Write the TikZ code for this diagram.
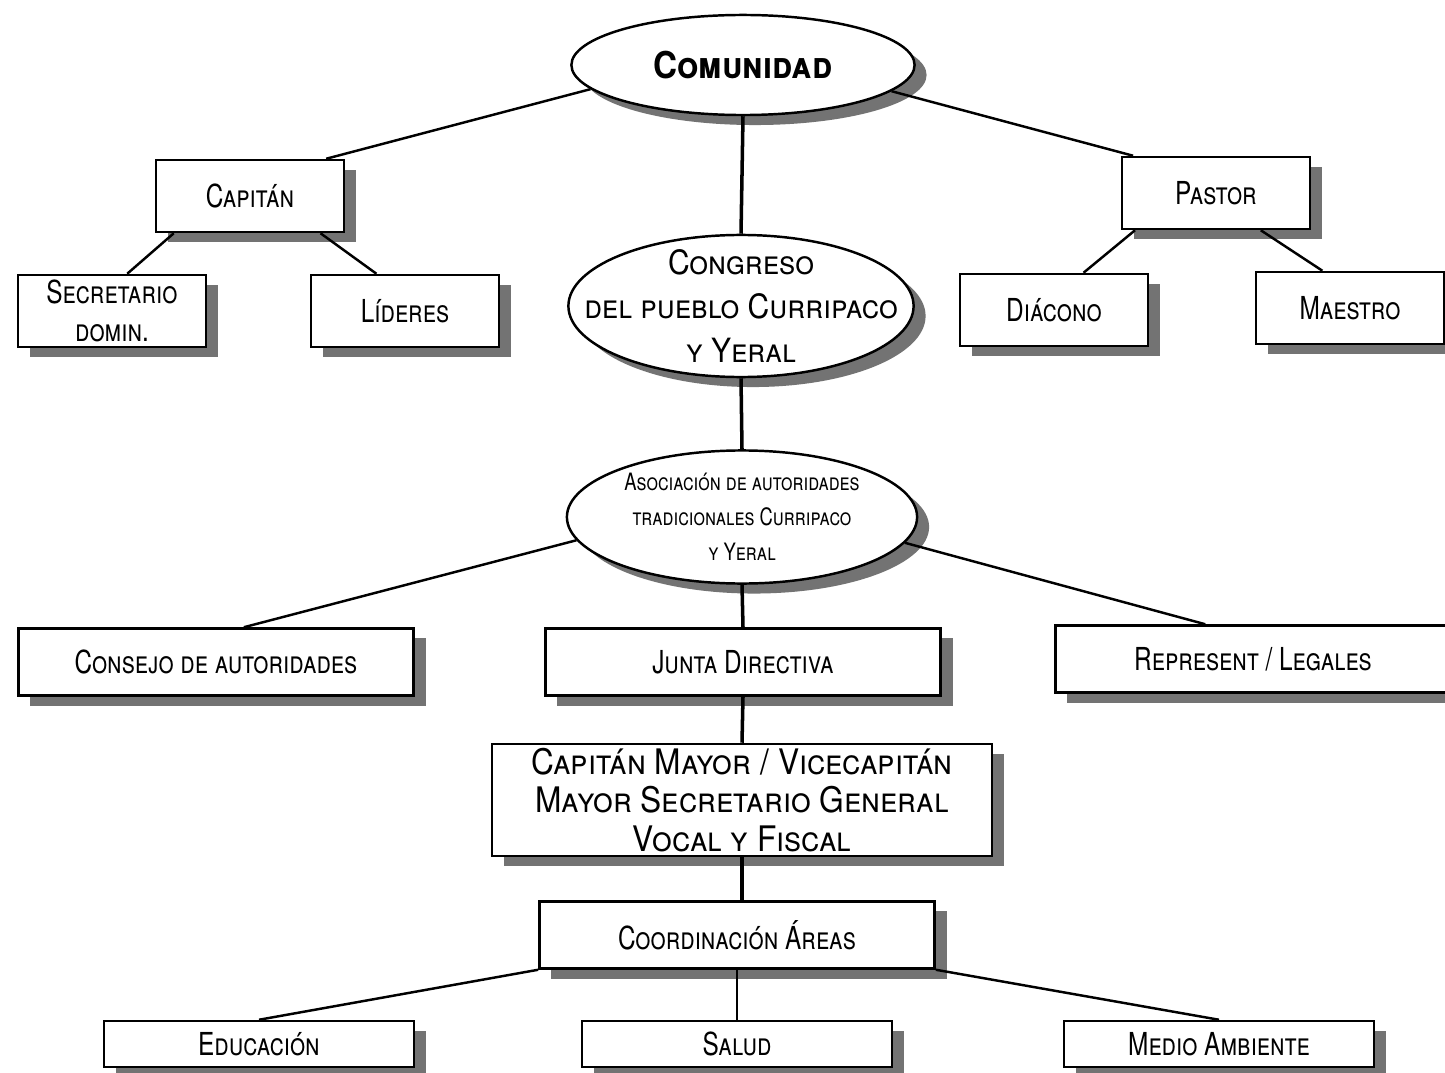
\documentclass[tikz,border=0pt]{standalone}
\usepackage{fontspec}
\setmainfont{TeX Gyre Heros}
\newfontfamily\narrowsc[FakeStretch=0.77]{TeX Gyre Heros}
\newfontfamily\widesc[FakeStretch=0.9]{TeX Gyre Heros}
\usetikzlibrary{shapes.geometric,shadows,calc}
\tikzset{
  orgshadow/.style={drop shadow={shadow xshift=0.12cm, shadow yshift=-0.1cm, fill=black!55, opacity=1}},
  orgbox/.style={draw, line width=0.7pt, fill=white, inner sep=0pt, align=center, orgshadow,
    font={\narrowsc\scshape\fontsize{9}{11}\selectfont}},
  smallbox/.style={orgbox, minimum width=1.88cm, minimum height=0.72cm},
  widebox/.style={orgbox, minimum width=3.95cm, minimum height=0.67cm},
  areabox/.style={orgbox, minimum width=3.1cm, minimum height=0.46cm},
  orgoval/.style={ellipse, draw, line width=0.7pt, fill=white, inner sep=0pt, orgshadow},
  link/.style={line width=0.7pt},
  trunk/.style={line width=1pt}
}

\begin{document}
\begin{tikzpicture}[x=0.01cm, y=-0.01cm]
\useasboundingbox[fill=white] (0,0) rectangle (1445,1073);

% Community and its two branches
\node[orgoval, minimum width=3.43cm, minimum height=1.0cm,
  label={[font={\widesc\scshape\bfseries\fontsize{10.5}{13}\selectfont}]center:Comunidad}] (comunidad) at (743,65) {};
\node[smallbox] (capitan) at (250,196) {Capitán};
\node[smallbox] (secretario) at (112,311) {Secretario\\domin.};
\node[smallbox] (lideres) at (405,311) {Líderes};
\node[smallbox] (pastor) at (1216,193) {Pastor};
\node[smallbox] (diacono) at (1054,310) {Diácono};
\node[smallbox] (maestro) at (1350,308) {Maestro};

% Congress and association
\node[orgoval, minimum width=3.45cm, minimum height=1.42cm,
  label={[align=center, font={\widesc\scshape\fontsize{9.5}{12.5}\selectfont}]center:Congreso\\del pueblo Curripaco\\y Yeral}] (congreso) at (741,306) {};
\node[orgoval, minimum width=3.5cm, minimum height=1.33cm,
  label={[align=center, font={\narrowsc\scshape\fontsize{6.8}{10}\selectfont}]center:Asociación de autoridades\\tradicionales Curripaco\\y Yeral}] (asociacion) at (742,517) {};

\node[widebox] (consejo) at (216,662) {Consejo de autoridades};
\node[widebox] (junta) at (743,662) {Junta Directiva};
\node[widebox] (represent) at (1253,659) {Represent / Legales};

\node[orgbox, minimum width=5.0cm, minimum height=1.12cm,
  font={\widesc\scshape\fontsize{10}{11}\selectfont}] (mayor) at (742,800)
  {Capitán Mayor / Vicecapitán\\Mayor Secretario General\\Vocal y Fiscal};
\node[widebox] (coordinacion) at (737,935) {Coordinación Áreas};

% Areas
\node[areabox] (educacion) at (259,1044) {Educación};
\node[areabox] (salud) at (737,1044) {Salud};
\node[areabox] (medio) at (1219,1044) {Medio Ambiente};

% Connectors
\draw[link] (comunidad.189) -- ($(capitan.north)!0.8!(capitan.north east)$);
\draw[link] (comunidad.350) -- ($(pastor.north)!0.87!(pastor.north west)$);
\draw[trunk] (comunidad.south) -- (congreso.north);
\draw[link] ($(capitan.south)!0.8!(capitan.south west)$) -- ($(secretario.north)!0.16!(secretario.north east)$);
\draw[link] ($(capitan.south)!0.74!(capitan.south east)$) -- ($(lideres.north)!0.3!(lideres.north west)$);
\draw[link] ($(pastor.south)!0.85!(pastor.south west)$) -- ($(diacono.north)!0.31!(diacono.north east)$);
\draw[link] ($(pastor.south)!0.47!(pastor.south east)$) -- ($(maestro.north)!0.29!(maestro.north west)$);
\draw[trunk] (congreso.south) -- (asociacion.north);
\draw[link] (asociacion.188) -- ($(consejo.north)!0.14!(consejo.north east)$);
\draw[trunk] (asociacion.south) -- (junta.north);
\draw[link] (asociacion.351) -- ($(represent.north)!0.24!(represent.north west)$);
\draw[trunk] (junta.south) -- (mayor.north);
\draw[trunk] (mayor.south) -- (mayor.south |- coordinacion.north);
\draw[link] (coordinacion.south west) -- (educacion.north);
\draw[link] (coordinacion.south) -- (salud.north);
\draw[link] (coordinacion.south east) -- (medio.north);

\end{tikzpicture}
\end{document}
